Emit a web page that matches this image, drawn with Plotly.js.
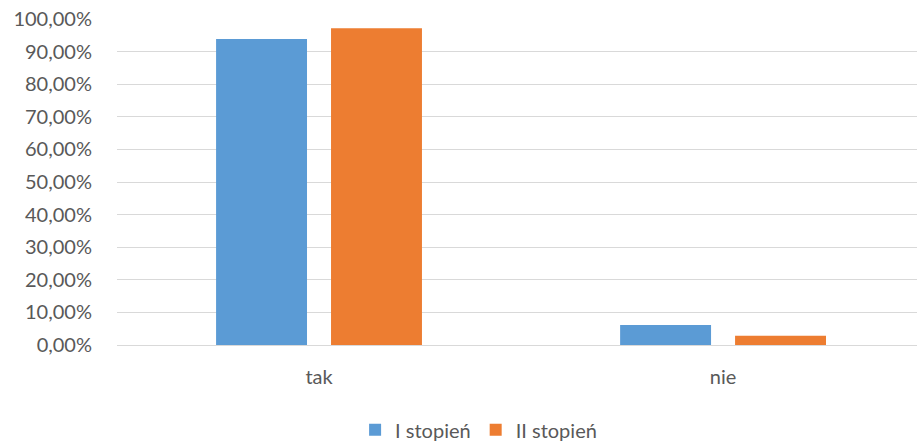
<!DOCTYPE html>
<html>
<head>
<meta charset="utf-8">
<script src="https://cdn.plot.ly/plotly-3.0.1.min.js"></script>
<style>html,body{margin:0;padding:0;background:#fff;}#chart{width:917px;height:444px;}</style>
</head>
<body>
<div id="chart"></div>
<script>
const categories = ["tak", "nie"];
const seriesNames = ["I stopień", "II stopień"];
const stopienI = [0.939, 0.061];
const stopienII = [0.972, 0.028];
const tickValues = [0, 0.1, 0.2, 0.3, 0.4, 0.5, 0.6, 0.7, 0.8, 0.9, 1.0];

const font = "Lato, 'Open Sans', sans-serif";
const data = [
  {type: "bar", name: seriesNames[0], x: categories, y: stopienI, marker: {color: "#5B9BD5"}, hoverinfo: "none"},
  {type: "bar", name: seriesNames[1], x: categories, y: stopienII, marker: {color: "#ED7D31"}, hoverinfo: "none"}
];
const layout = {
  width: 917, height: 444,
  margin: {l: 117, r: 0, t: 19, b: 99, autoexpand: false},
  paper_bgcolor: "#fff", plot_bgcolor: "#fff",
  separators: ", ",
  barmode: "group",
  bargap: 0.431,
  bargroupgap: 0.209,
  font: {family: font, size: 20, color: "#595959"},
  xaxis: {
    range: [-0.5, 1.48],
    showgrid: false, showline: false, zeroline: false, ticks: "",
    ticklabelstandoff: 18,
    tickfont: {family: font, size: 20, color: "#595959"}
  },
  yaxis: {
    range: [0, 1], tickvals: tickValues, tickformat: ".2%",
    showgrid: true, gridcolor: "#D9D9D9", gridwidth: 1,
    zeroline: true, zerolinecolor: "#D9D9D9", zerolinewidth: 1,
    showline: false, ticks: "", ticklabelstandoff: 24,
    tickfont: {family: font, size: 20, color: "#595959"}
  },
  legend: {
    orientation: "h", x: 0.452, xanchor: "center",
    yref: "container", y: 0.032, yanchor: "middle",
    font: {family: font, size: 20, color: "#595959"},
    itemwidth: 30, tracegroupgap: 0
  },
  showlegend: true
};
Plotly.newPlot("chart", data, layout, {staticPlot: true, displayModeBar: false});
</script>
</body>
</html>
